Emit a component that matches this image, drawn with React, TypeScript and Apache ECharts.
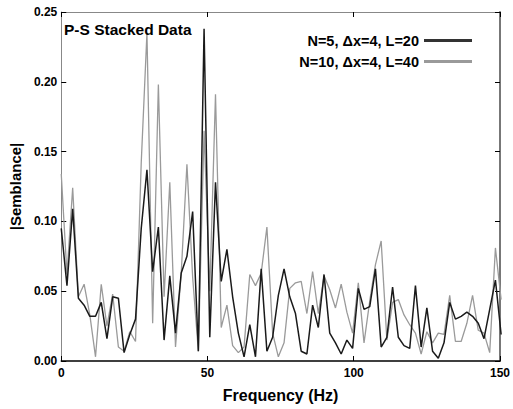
import React, { useEffect, useRef } from "react";
import * as echarts from "echarts";

// frequency sampling step (Hz) of the spectrum
const DF = 1.953125;

const seriesNames = ["N=5, \u0394x=4, L=20", "N=10, \u0394x=4, L=40"];

// |Semblance| values, N=5 (black)
const blackValues = [
  0.095, 0.054, 0.109, 0.045, 0.040, 0.032, 0.032, 0.042, 0.016, 0.046,
  0.045, 0.006, 0.019, 0.030, 0.095, 0.137, 0.064, 0.096, 0.015, 0.061,
  0.020, 0.063, 0.075, 0.107, 0.007, 0.238, 0.017, 0.128, 0.057, 0.080,
  0.046, 0.020, 0.003, 0.026, 0.003, 0.066, 0.007, 0.017, 0.047, 0.066,
  0.046, 0.034, 0.007, 0.005, 0.040, 0.024, 0.062, 0.020, 0.013, 0.005,
  0.015, 0.009, 0.052, 0.037, 0.039, 0.066, 0.010, 0.017, 0.053, 0.017,
  0.011, 0.009, 0.054, 0.010, 0.038, 0.007, 0.002, 0.013, 0.042, 0.030,
  0.032, 0.035, 0.032, 0.027, 0.016, 0.037, 0.058, 0.019,
];

// |Semblance| values, N=10 (gray)
const grayValues = [
  0.134, 0.062, 0.124, 0.046, 0.055, 0.033, 0.003, 0.055, 0.025, 0.048,
  0.010, 0.007, 0.021, 0.014, 0.142, 0.235, 0.027, 0.198, 0.046, 0.128,
  0.010, 0.063, 0.141, 0.060, 0.007, 0.165, 0.050, 0.191, 0.024, 0.040,
  0.011, 0.006, 0.010, 0.062, 0.054, 0.063, 0.096, 0.020, 0.003, 0.013,
  0.052, 0.056, 0.057, 0.034, 0.064, 0.034, 0.061, 0.051, 0.038, 0.055,
  0.035, 0.020, 0.056, 0.013, 0.043, 0.069, 0.086, 0.015, 0.042, 0.044,
  0.033, 0.026, 0.020, 0.005, 0.021, 0.013, 0.020, 0.019, 0.047, 0.014,
  0.014, 0.027, 0.047, 0.022, 0.020, 0.006, 0.081, 0.044,
];

const xTicks = { min: 0, max: 150, interval: 50 };
const yTicks = { min: 0, max: 0.25, interval: 0.05 };

const FONT = "Arial, 'Liberation Sans', sans-serif";

export default function App() {
  const ref = useRef<HTMLDivElement>(null);
  useEffect(() => {
    if (!ref.current) return;
    const chart = echarts.init(ref.current, undefined, { renderer: "svg" });
    const toPairs = (vals: number[]) => vals.map((v, i) => [i * DF, v]);
    const labelStyle = { color: "#000", fontWeight: "bold" as const, fontSize: 12, fontFamily: FONT };
    chart.setOption({
      animation: false,
      backgroundColor: "#fff",
      title: {
        text: "P-S Stacked Data",
        left: 64,
        top: 21,
        padding: 0,
        textStyle: { color: "#000", fontWeight: "bold", fontSize: 15.5, fontFamily: FONT },
      },
      legend: {
        orient: "vertical",
        right: 41,
        top: 33,
        align: "right",
        itemWidth: 48,
        itemHeight: 3,
        itemGap: 6,
        icon: "rect",
        padding: 0,
        textStyle: { color: "#000", fontWeight: "bold", fontSize: 14.5, fontFamily: FONT, padding: [0, 0, 0, 0] },
        data: seriesNames,
      },
      grid: { left: 59.5, right: 12, top: 12, bottom: 48, containLabel: false },
      xAxis: [
        {
          type: "value",
          position: "bottom",
          ...xTicks,
          name: "Frequency (Hz)",
          nameLocation: "middle",
          nameGap: 26,
          nameTextStyle: { color: "#000", fontWeight: "bold", fontSize: 16, fontFamily: FONT },
          axisLine: { show: true, lineStyle: { color: "#000", width: 1.5 } },
          axisTick: { show: true, inside: true, length: 5, lineStyle: { color: "#000" } },
          axisLabel: { ...labelStyle, margin: 6 },
          splitLine: { show: false },
        },
        {
          type: "value",
          position: "top",
          ...xTicks,
          axisLine: { show: true, onZero: false, lineStyle: { color: "#888", width: 1 } },
          axisTick: { show: true, inside: true, length: 5, lineStyle: { color: "#000" } },
          axisLabel: { show: false },
          splitLine: { show: false },
        },
      ],
      yAxis: [
        {
          type: "value",
          position: "left",
          ...yTicks,
          name: "|Semblance|",
          nameLocation: "middle",
          nameGap: 37,
          nameTextStyle: { color: "#000", fontWeight: "bold", fontSize: 15, fontFamily: FONT },
          axisLine: { show: true, onZero: false, lineStyle: { color: "#888", width: 1 } },
          axisTick: { show: true, inside: true, length: 5, lineStyle: { color: "#000" } },
          axisLabel: { ...labelStyle, margin: 4, formatter: (v: number) => v.toFixed(2) },
          splitLine: { show: false },
        },
        {
          type: "value",
          position: "right",
          ...yTicks,
          axisLine: { show: true, onZero: false, lineStyle: { color: "#777", width: 2 } },
          axisTick: { show: true, inside: true, length: 5, lineStyle: { color: "#000" } },
          axisLabel: { show: false },
          splitLine: { show: false },
        },
      ],
      series: [
        {
          name: seriesNames[1],
          type: "line",
          data: toPairs(grayValues),
          showSymbol: false,
          clip: true,
          z: 2,
          color: "#9a9a9a",
          lineStyle: { color: "#9a9a9a", width: 1.3 },
        },
        {
          name: seriesNames[0],
          type: "line",
          data: toPairs(blackValues),
          showSymbol: false,
          clip: true,
          z: 3,
          color: "#333333",
          lineStyle: { color: "#1a1a1a", width: 1.5 },
        },
      ],
    });
    return () => chart.dispose();
  }, []);
  return (
    <div
      ref={ref}
      style={{ position: "fixed", left: 0, top: 0, width: 513, height: 409, background: "#fff" }}
    />
  );
}
